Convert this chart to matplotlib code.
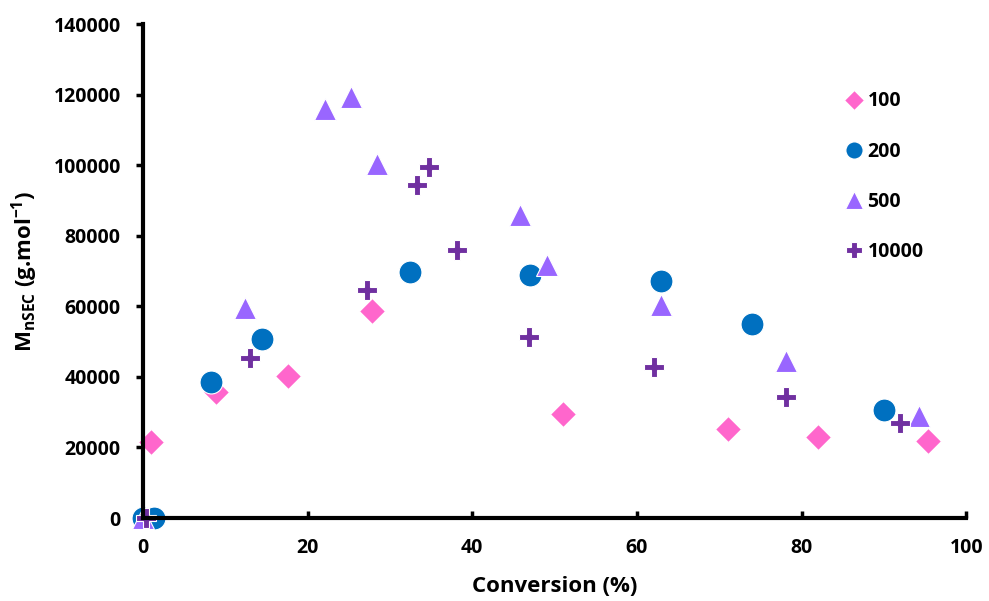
import matplotlib
matplotlib.use("Agg")
import matplotlib.pyplot as plt

plt.rcParams['font.family'] = ['Open Sans', 'DejaVu Sans']
plt.rcParams['font.weight'] = 'bold'
plt.rcParams['mathtext.fontset'] = 'custom'
plt.rcParams['mathtext.rm'] = 'Open Sans:bold'
plt.rcParams['mathtext.default'] = 'rm'

# series: target DP
x100 = [1.0, 8.9, 17.6, 27.8, 51.0, 71.0, 82.0, 95.3]
y100 = [21500, 35800, 40300, 58600, 29500, 25200, 23000, 21700]

x200 = [0.0, 1.3, 8.3, 14.5, 32.4, 47.0, 62.9, 74.0, 90.0]
y200 = [0, 0, 38600, 50800, 69800, 69000, 67300, 54900, 30700]

x500 = [0.0, 12.4, 22.1, 25.3, 28.4, 45.8, 49.1, 62.9, 78.1, 94.2]
y500 = [0, 59500, 115800, 119200, 100200, 86000, 71700, 60500, 44500, 28800]

x10000 = [0.4, 13.0, 27.2, 33.3, 34.8, 38.2, 46.9, 62.1, 78.1, 92.0]
y10000 = [0, 45300, 64600, 94300, 99600, 75900, 51200, 42700, 34400, 26800]

fig = plt.figure(figsize=(9.89, 6.01), dpi=100)
ax = fig.add_axes([0.1446, 0.138, 0.8324, 0.822])

ax.plot(x100, y100, ls="none", marker="D", ms=13, mfc="#FF66CC", mec="white",
        mew=0.8, label="100", clip_on=False)
ax.plot(x200, y200, ls="none", marker="o", ms=16.5, mfc="#0070C0", mec="white",
        mew=0.8, label="200", clip_on=False)
ax.plot(x500, y500, ls="none", marker="^", ms=16.5, mfc="#9966FF", mec="white",
        mew=0.8, label="500", clip_on=False)
ax.plot(x10000, y10000, ls="none", marker="P", ms=15, mfc="#7030A0", mec="white",
        mew=0.8, label="10000", clip_on=False)

ax.set_xlim(0, 100)
ax.set_ylim(0, 140000)
ax.set_xticks(range(0, 101, 20))
ax.set_yticks(range(0, 140001, 20000))

for s in ["top", "right"]:
    ax.spines[s].set_visible(False)
for s in ["left", "bottom"]:
    ax.spines[s].set_linewidth(3)
ax.tick_params(axis="x", direction="in", length=5, width=2.5, labelsize=14, pad=14)
ax.tick_params(axis="y", direction="out", length=5, width=2.5, labelsize=14, pad=11)
for lab in ax.get_xticklabels() + ax.get_yticklabels():
    lab.set_fontweight("bold")

ax.set_xlabel("Conversion (%)", fontsize=16, fontweight="bold", labelpad=13)
ax.set_ylabel(r"M$_{\mathrm{nSEC}}$ (g.mol$^{\mathrm{-1}}$)", fontsize=16,
              fontweight="bold", labelpad=10)

leg = ax.legend(loc="upper left", bbox_to_anchor=(0.828, 0.899), frameon=False,
                prop={"size": 14, "weight": "bold"}, labelspacing=1.55,
                handletextpad=0.1, handlelength=1.2, markerscale=0.75)

fig.savefig("out.png", dpi=100)
